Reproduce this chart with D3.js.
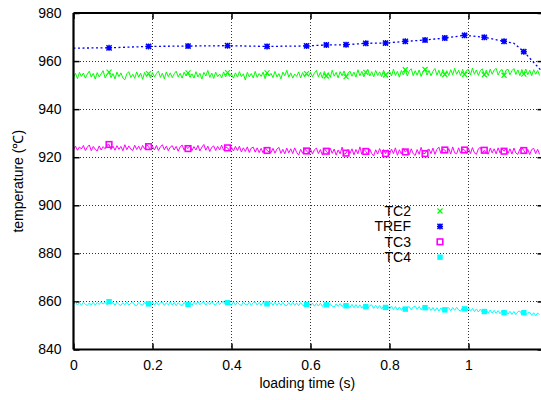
<!DOCTYPE html>
<html><head><meta charset="utf-8">
<script src="https://cdn.jsdelivr.net/npm/d3@7"></script>
<style>
html,body{margin:0;padding:0;background:#fff;overflow:hidden;}
text{font-family:"Liberation Sans",Arial,sans-serif;font-size:14px;fill:#000;}
</style></head>
<body>
<svg id="c" width="541" height="400"></svg>
<script>
// ---- data ----
const dt = 0.005; // sample interval (s) of the thermocouple records
const xTicks = [0, 0.2, 0.4, 0.6, 0.8, 1];
const yTicks = [840, 860, 880, 900, 920, 940, 960, 980];
const seriesNames = ["TC2", "TREF", "TC3", "TC4"];
const markerTimes = [0.09,0.19,0.29,0.39,0.49,0.59,0.64,0.69,0.74,0.79,0.84,0.89,0.94,0.99,1.04,1.09,1.14];

const tc2 = [
953.2,954.9,952.7,955.3,953.6,955.0,952.9,954.6,955.8,953.3,954.9,952.5,955.2,953.4,954.7,956.0,953.0,954.4,955.4,953.1,
954.8,952.6,955.4,953.5,955.1,952.9,952.2,954.7,955.6,953.2,954.5,952.8,955.5,953.3,955.0,952.4,955.3,953.6,954.8,952.9,
955.2,953.4,954.8,955.9,953.2,955.0,952.6,955.5,953.5,955.1,953.1,954.7,955.8,953.4,954.9,952.9,955.4,953.8,955.1,953.2,
954.7,952.9,955.6,953.4,954.9,952.5,955.3,953.8,956.1,953.2,955.0,952.8,955.4,953.5,954.6,953.0,955.5,953.4,955.2,953.6,
954.6,952.9,955.1,953.3,955.6,953.5,954.7,952.1,955.3,953.4,954.8,953.0,955.7,953.2,954.8,953.6,955.4,952.7,955.1,953.8,
954.9,953.1,955.7,953.4,954.8,952.6,955.4,953.9,956.2,953.3,955.1,952.9,954.6,953.6,955.5,953.0,955.2,953.4,954.8,953.7,
955.3,953.5,955.0,956.1,953.4,955.3,952.9,955.7,953.8,955.2,953.2,956.2,953.7,955.3,953.0,955.6,953.9,955.9,953.5,955.0,
955.8,953.7,955.4,953.3,956.4,953.9,955.7,953.4,955.3,956.5,953.8,955.6,953.4,956.1,954.0,955.5,953.5,956.2,954.2,954.9,
955.8,953.8,956.6,954.0,955.7,953.3,956.1,954.2,956.4,953.8,955.9,956.8,953.9,956.0,954.1,956.3,953.6,955.7,956.5,954.2,
956.1,953.9,955.8,956.9,954.1,956.2,953.7,956.5,954.4,956.0,954.0,956.4,954.3,957.0,954.5,956.2,953.9,956.6,954.4,956.1,
956.5,954.2,957.1,954.5,956.3,954.0,956.0,956.8,954.3,956.2,953.9,956.7,954.5,956.3,957.0,954.2,955.9,956.5,954.1,956.2,
956.6,954.3,956.0,956.9,954.4,956.3,953.9,956.5,954.6,956.7,954.3,956.2,953.9,956.4,954.5,956.1,954.0];

const tc3 = [
923.1,924.6,922.9,924.3,923.4,924.9,922.8,924.2,925.1,922.7,924.5,923.3,922.6,924.7,923.0,924.4,923.5,925.0,925.3,923.2,
924.6,922.9,924.8,923.3,924.5,922.7,925.2,923.1,924.7,923.4,922.8,925.0,923.2,924.6,922.9,924.9,923.4,925.3,924.4,923.0,
924.5,923.0,924.9,922.8,924.3,925.2,923.1,924.6,922.7,924.2,924.8,923.0,924.5,922.5,924.3,925.1,922.9,924.4,923.6,924.7,
922.8,924.4,923.0,924.9,922.6,924.2,925.3,922.9,924.6,922.4,924.1,924.7,922.8,924.5,923.0,925.0,922.9,924.3,923.9,922.8,
924.1,922.6,924.5,922.8,924.6,922.2,923.9,922.4,924.3,922.0,923.8,924.2,922.1,923.9,921.9,923.7,921.8,923.9,922.8,922.2,
921.9,923.7,921.7,923.4,924.1,921.6,923.3,921.4,923.8,921.8,923.5,921.5,923.9,922.0,920.9,923.3,921.6,923.7,922.6,921.7,
923.4,921.3,923.1,923.8,921.5,923.2,920.9,923.6,922.5,921.4,923.7,921.6,923.4,920.9,923.0,921.4,924.2,921.2,921.7,923.2,
921.6,923.5,921.0,923.2,921.4,924.3,921.2,923.3,922.4,921.1,923.4,921.5,920.6,923.1,921.3,923.6,921.5,923.2,921.5,923.1,
921.2,923.4,921.5,923.9,920.8,923.1,921.4,923.6,922.2,923.0,921.0,923.5,921.5,920.7,923.2,921.2,924.1,921.6,921.5,922.9,
923.4,921.5,923.8,921.2,923.3,924.2,921.6,923.5,923.0,921.7,923.6,921.3,924.3,921.8,921.4,923.9,921.7,923.5,923.0,921.6,
923.6,921.5,924.0,921.8,921.2,923.5,924.1,921.6,922.9,921.7,921.3,923.8,921.8,923.5,921.4,923.9,921.7,923.4,922.5,923.6,
921.6,923.5,921.3,923.8,921.7,921.2,923.4,924.0,922.8,921.4,923.3,921.1,923.2,923.7,921.5,923.3,921.2];

const tc4 = [
858.6,859.6,858.5,859.5,858.4,859.7,858.8,858.3,859.4,858.5,859.7,858.4,859.6,858.7,859.8,858.9,859.7,858.6,859.9,859.1,
859.6,858.4,859.7,858.7,858.3,859.5,858.6,859.8,858.4,859.3,859.7,858.5,858.2,859.6,858.8,858.4,859.7,858.6,859.0,858.3,
859.6,858.5,859.8,858.4,859.4,859.7,858.3,859.4,858.6,859.8,858.4,859.6,858.2,859.5,858.6,858.3,859.6,858.5,858.75,859.5,
858.4,859.7,858.7,859.9,858.6,859.5,859.8,858.4,859.7,858.7,859.9,858.8,858.5,859.8,858.7,859.6,859.9,858.7,859.5,859.0,
858.5,859.8,858.5,859.7,858.7,858.3,859.8,858.7,858.5,859.7,858.3,859.5,859.8,858.5,859.6,858.4,859.7,858.5,859.0,858.4,
859.6,858.4,859.7,858.3,859.5,858.4,859.6,858.5,858.2,859.5,858.4,859.6,858.3,859.4,858.2,859.5,858.4,858.1,858.75,859.4,
858.1,859.3,858.0,859.2,858.1,859.3,857.9,859.1,858.6,857.8,859.1,858.0,857.7,859.0,857.9,859.1,857.8,858.9,858.2,857.9,
857.5,858.8,857.4,858.7,857.3,858.6,857.2,858.5,857.8,857.0,858.3,858.6,857.1,858.4,857.0,858.3,856.8,858.1,857.5,858.2,
856.8,858.1,856.6,857.9,856.4,857.7,856.3,857.6,856.8,857.5,857.8,856.5,857.7,858.0,856.7,857.9,856.5,857.7,857.4,856.5,
857.6,856.2,857.5,856.1,857.4,856.0,857.3,855.9,856.5,857.2,857.4,856.1,857.5,856.3,857.6,856.4,856.0,857.4,856.9,856.1,
857.2,855.9,857.1,855.7,856.9,855.6,856.8,855.5,855.8,856.5,855.2,856.4,855.1,856.3,855.0,856.2,854.9,856.1,855.3,856.0,
854.7,855.9,854.6,855.8,854.5,855.7,856.0,854.7,855.3,854.5,855.2,855.5,854.2,855.3,854.1,855.2,854.5];

const trefTime  = [0, 0.09, 0.19, 0.29, 0.39, 0.49, 0.59, 0.64, 0.69, 0.74, 0.79, 0.84, 0.89, 0.94, 0.99, 1.04, 1.09, 1.115, 1.14, 1.19];
const trefValue = [965.4, 965.5, 966.1, 966.25, 966.4, 966.1, 966.3, 966.7, 966.8, 967.4, 967.5, 968.2, 968.75, 969.6, 970.7, 969.9, 968.2, 967.4, 963.9, 955.0];
const trefMarked = [0,1,1,1,1,1,1,1,1,1,1,1,1,1,1,1,1,0,1,0];

// ---- layout ----
const W = 541, H = 400;
const m = {left: 73.5, top: 13, bottom: 349.5};
const xMax = 1.19;
const x = d3.scaleLinear().domain([0, xMax]).range([m.left, m.left + 395 * xMax]);
const y = d3.scaleLinear().domain([840, 980]).range([m.bottom, m.top]);
const svg = d3.select("#c");

svg.append("defs").append("clipPath").attr("id","clip")
  .append("rect").attr("x", m.left).attr("y", m.top)
  .attr("width", x.range()[1]-m.left).attr("height", m.bottom-m.top);

// grid
const grid = svg.append("g");
grid.selectAll(".gx").data(xTicks.filter(d => d > 0)).join("line")
  .attr("x1", d => x(d)).attr("x2", d => x(d)).attr("y1", m.top).attr("y2", m.bottom)
  .attr("stroke", "#333").attr("stroke-width", 1).attr("stroke-dasharray", "1,2")
  .attr("shape-rendering","crispEdges");
grid.selectAll(".gy").data(yTicks.filter(d => d > 840 && d < 980)).join("line")
  .attr("x1", m.left).attr("x2", x.range()[1]).attr("y1", d => y(d)).attr("y2", d => y(d))
  .attr("stroke", "#333").attr("stroke-width", 1).attr("stroke-dasharray", "1,2")
  .attr("shape-rendering","crispEdges");

// axes (gnuplot style: inward ticks)
const xAxB = d3.axisBottom(x).tickValues(xTicks).tickSize(-6).tickPadding(11).tickFormat(d3.format("~g"));
const xAxT = d3.axisTop(x).tickValues(xTicks).tickSize(-6).tickFormat("");
const yAxL = d3.axisLeft(y).tickValues(yTicks).tickSize(-6).tickPadding(12).tickFormat(d3.format("d"));
const yAxR = d3.axisRight(y).tickValues(yTicks).tickSize(-6).tickFormat("");

function styleAxis(g){
  g.select(".domain").remove();
  g.selectAll(".tick line").attr("stroke","#000").attr("stroke-width",1.5);
  g.selectAll("text").style("font-family","'Liberation Sans',Arial,sans-serif").style("font-size","14px").attr("fill","#000");
}
svg.append("g").attr("transform",`translate(0,${m.bottom})`).call(xAxB).call(styleAxis);
svg.append("g").attr("transform",`translate(0,${m.top})`).call(xAxT).call(styleAxis);
svg.append("g").attr("transform",`translate(${m.left},0)`).call(yAxL).call(styleAxis);
svg.append("g").attr("transform",`translate(${x.range()[1]},0)`).call(yAxR).call(styleAxis);

// data layer
const plot = svg.append("g").attr("clip-path","url(#clip)");
const line = d3.line().x(d => x(d[0])).y(d => y(d[1]));
const toPts = arr => arr.map((v,i) => [i*dt, v]);

const colors = {TC2:"#00ff00", TREF:"#0000ff", TC3:"#ff00ff", TC4:"#00ffff"};

const dense = [["TC2", tc2], ["TC3", tc3], ["TC4", tc4]];
dense.forEach(([name, arr]) => {
  plot.append("path").datum(toPts(arr)).attr("d", line)
    .attr("fill","none").attr("stroke", colors[name]).attr("stroke-width", 1);
});
const trefPts = trefTime.map((t,i) => [t, trefValue[i]]);
plot.append("path").datum(trefPts).attr("d", line)
  .attr("fill","none").attr("stroke", colors.TREF).attr("stroke-width", 1.3)
  .attr("stroke-dasharray","2,2.5");

// markers
function marker(g, name, cx, cy){
  const c = colors[name];
  if (name === "TC2") {
    const s = 2.5;
    g.append("path").attr("d",`M${cx-s},${cy-s}L${cx+s},${cy+s}M${cx-s},${cy+s}L${cx+s},${cy-s}`)
      .attr("stroke", c).attr("stroke-width",1.2).attr("fill","none");
  } else if (name === "TREF") {
    const s = 2.6;
    g.append("path").attr("d",`M${cx-s},${cy-s}L${cx+s},${cy+s}M${cx-s},${cy+s}L${cx+s},${cy-s}M${cx-s-0.4},${cy}L${cx+s+0.4},${cy}M${cx},${cy-s-0.4}L${cx},${cy+s+0.4}`)
      .attr("stroke", c).attr("stroke-width",1.5).attr("fill","none");
  } else if (name === "TC3") {
    g.append("rect").attr("x",cx-2.8).attr("y",cy-2.8).attr("width",5.6).attr("height",5.6)
      .attr("fill","none").attr("stroke",c).attr("stroke-width",1.6);
  } else {
    g.append("rect").attr("x",cx-2.7).attr("y",cy-2.7).attr("width",5.4).attr("height",5.4)
      .attr("fill",c);
  }
}
dense.forEach(([name, arr]) => {
  markerTimes.forEach(t => {
    const i = Math.round(t/dt);
    marker(plot, name, x(i*dt), y(arr[i]));
  });
});
trefPts.forEach((p,i) => { if (trefMarked[i]) marker(plot, "TREF", x(p[0]), y(p[1])); });

// frame (left, top, bottom; right lies just outside the window)
const frame = svg.append("g").attr("stroke","#000").attr("stroke-width",2.2).attr("fill","none");
frame.append("line").attr("x1",m.left).attr("x2",m.left).attr("y1",m.top).attr("y2",m.bottom);
frame.append("line").attr("x1",m.left).attr("x2",x.range()[1]).attr("y1",m.top).attr("y2",m.top);
frame.append("line").attr("x1",m.left).attr("x2",x.range()[1]).attr("y1",m.bottom).attr("y2",m.bottom);
frame.append("line").attr("x1",x.range()[1]).attr("x2",x.range()[1]).attr("y1",m.top).attr("y2",m.bottom);

// legend
const lg = svg.append("g");
seriesNames.forEach((name, i) => {
  const yy = 211 + i * 15.4;
  lg.append("text").attr("x", 411).attr("y", yy).attr("dy","0.35em").attr("text-anchor","end").text(name);
  marker(lg, name, 440, yy);
});

// axis titles
svg.append("text").attr("x", (m.left + W) / 2).attr("y", 388).attr("text-anchor","middle").text("loading time (s)");
svg.append("text").attr("transform", `translate(18,${(m.top+m.bottom)/2}) rotate(-90)`)
  .attr("dy","0.35em").attr("text-anchor","middle").text("temperature (\u2103)");
</script>
</body></html>
